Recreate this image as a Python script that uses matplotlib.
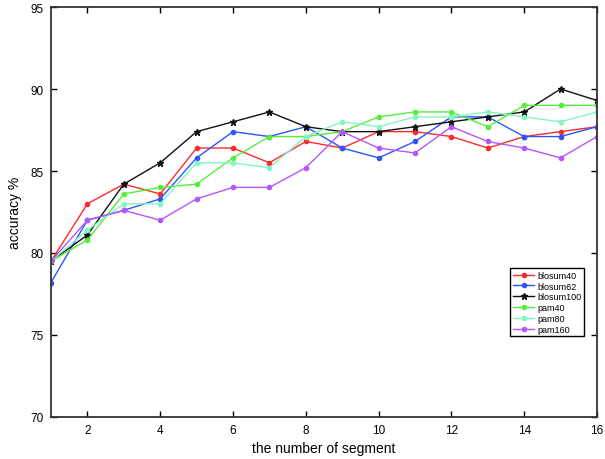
import numpy as np
import matplotlib.pyplot as plt

plt.rcParams['font.family'] = ['Liberation Sans', 'DejaVu Sans']

# data
segments = list(range(1, 17))
blosum40 = [79.5, 83.0, 84.2, 83.6, 86.4, 86.4, 85.5, 86.8, 86.4, 87.4, 87.4, 87.1, 86.4, 87.1, 87.4, 87.7]
blosum62 = [78.2, 82.0, 82.6, 83.3, 85.8, 87.4, 87.1, 87.7, 86.4, 85.8, 86.8, 88.3, 88.3, 87.1, 87.1, 87.7]
blosum100 = [79.5, 81.1, 84.2, 85.5, 87.4, 88.0, 88.6, 87.7, 87.4, 87.4, 87.7, 88.0, 88.3, 88.6, 90.0, 89.3]
pam40 = [79.5, 80.8, 83.6, 84.0, 84.2, 85.8, 87.1, 87.1, 87.4, 88.3, 88.6, 88.6, 87.7, 89.0, 89.0, 89.0]
pam80 = [79.5, 81.4, 83.0, 83.0, 85.5, 85.5, 85.2, 87.1, 88.0, 87.7, 88.3, 88.3, 88.6, 88.3, 88.0, 88.6]
pam160 = [79.5, 82.0, 82.6, 82.0, 83.3, 84.0, 84.0, 85.2, 87.4, 86.4, 86.1, 87.7, 86.8, 86.4, 85.8, 87.1]

series = [
    ("blosum40", blosum40, "#ff2a2a", "o"),
    ("blosum62", blosum62, "#2a55ff", "o"),
    ("blosum100", blosum100, "#111111", "*"),
    ("pam40", pam40, "#55ee3a", "o"),
    ("pam80", pam80, "#80f8c0", "o"),
    ("pam160", pam160, "#b455ff", "o"),
]

fig = plt.figure(figsize=(6.05, 4.6), dpi=100)
# axes box: x 51..597, y 8..418 px
ax = fig.add_axes([51 / 605, 1 - 418 / 460, 546 / 605, 410 / 460])

for name, vals, col, mk in series:
    ms = 5 if mk == "*" else 3
    ax.plot(segments, vals, color=col, marker=mk, markersize=ms, linewidth=1.0, label=name)

ax.set_xlim(1, 16)
ax.set_ylim(70, 95)
ax.set_xticks(np.arange(2, 17, 2))
ax.set_yticks(np.arange(70, 96, 5))
ax.tick_params(direction='in', top=True, right=True, length=4, labelsize=8.5, width=1)
ax.tick_params(axis='x', pad=5)
ax.tick_params(axis='y', pad=5.5)
for s in ax.spines.values():
    s.set_linewidth(1.3)
    s.set_color('#333333')

ax.set_xlabel("the number of segment", fontsize=10, labelpad=4)
ax.set_ylabel("accuracy %", fontsize=10, labelpad=6)

ax.legend(loc='upper left', bbox_to_anchor=((510 - 51) / 546, (418 - 269) / 410), fontsize=6.5,
          frameon=True, fancybox=False, edgecolor='black', framealpha=1, handlelength=2.4,
          borderpad=0.3, labelspacing=0.2, handletextpad=0.3, borderaxespad=0)

plt.savefig('out.png', dpi=100)
